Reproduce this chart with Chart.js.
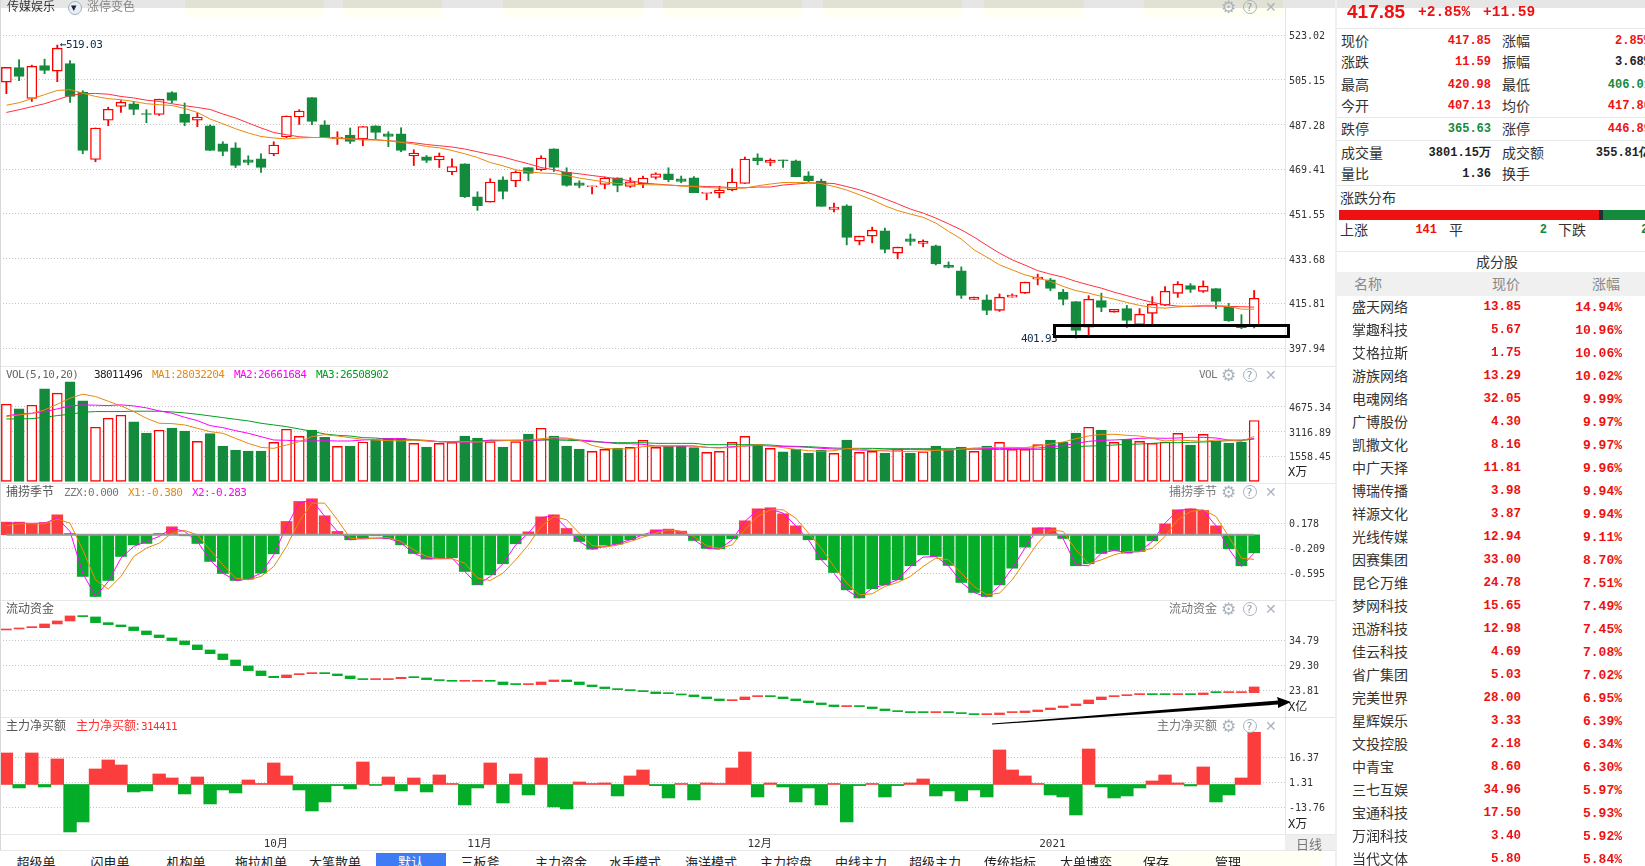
<!DOCTYPE html>
<html><head><meta charset="utf-8">
<script src="https://cdn.jsdelivr.net/npm/chart.js@4/dist/chart.umd.min.js"></script>
<style>
html,body{margin:0;padding:0;background:#fff;width:1645px;height:866px;overflow:hidden}
body{position:relative;font-family:"Noto Sans CJK SC",sans-serif}
canvas{position:absolute;left:0}
.t{position:absolute;white-space:nowrap;transform:translateY(-50%);line-height:1}
.b{position:absolute}
.m{font-family:"DejaVu Sans Mono",monospace;font-size:11px;letter-spacing:-.6px}
.v{font-family:"Liberation Mono",monospace;font-size:12px;font-weight:bold}
.c{font-family:"Noto Sans CJK SC",sans-serif;font-size:14px;color:#333;margin-top:-1.5px}
</style></head><body>
<script>
const opens=[504.2,510.0,497.7,510.8,508.6,511.6,500.2,473.3,489.0,494.5,495.6,491.6,491.3,500.0,491.5,489.0,486.8,479.6,478.0,473.2,473.6,475.5,482.3,490.3,498.0,487.2,481.6,483.1,481.5,486.8,483.6,483.6,474.7,474.4,473.1,468.3,471.6,458.4,456.3,465.2,464.7,470.1,469.2,477.6,468.3,464.0,462.4,463.3,466.0,462.5,463.6,466.1,467.6,465.6,466.0,459.8,459.9,461.1,463.7,474.0,472.1,473.1,472.8,466.8,464.7,453.4,454.8,440.7,442.7,444.8,435.9,441.6,439.8,438.8,431.1,428.8,417.4,417.2,413.0,418.3,419.9,425.5,425.2,420.3,416.5,406.3,416.9,412.3,413.7,407.3,411.8,415.1,419.8,422.9,420.6,421.7,414.5,406.9,407.13];
const closes=[510.1,506.5,510.6,508.9,517.8,498.5,476.9,485.9,493.4,496.2,493.3,491.3,497.4,496.9,488.1,490.3,476.9,476.5,470.9,472.1,470.1,479.1,490.7,492.7,488.5,482.1,482.3,480.5,486.5,484.1,482.5,476.9,475.9,472.9,474.7,470.5,458.5,454.9,464.3,460.6,468.3,467.7,473.9,470.1,462.9,462.9,462.7,465.9,462.9,464.4,465.9,467.6,465.2,464.5,460.1,459.9,461.1,464.3,473.5,472.8,473.1,472.8,466.4,464.8,454.6,454.3,442.2,442.7,445.1,437.4,438.3,440.6,440.7,431.6,430.2,419.0,418.3,413.0,418.3,419.1,424.3,426.3,421.8,417.4,405.0,417.5,414.2,413.4,409.0,411.5,415.5,420.7,423.5,421.4,422.7,416.6,408.9,406.1,417.85];
const highs=[510.1,513.2,511.0,513.4,519.03,512.8,500.8,485.9,494.2,496.8,496.5,493.2,497.4,500.4,495.9,491.9,487.1,480.4,480.0,474.8,475.6,480.4,490.7,493.2,498.0,488.8,484.4,485.9,486.5,486.8,484.4,486.0,477.2,474.9,475.9,473.6,471.6,460.4,465.6,466.4,468.8,470.1,474.8,477.6,470.0,464.8,462.7,466.3,466.0,466.0,466.7,468.0,470.0,466.7,466.5,459.9,462.6,469.6,474.3,475.6,473.6,473.1,473.1,468.4,465.5,455.9,455.2,442.7,446.3,445.9,438.3,443.5,441.2,439.1,432.4,430.4,418.3,419.2,419.6,419.6,424.3,427.5,425.8,421.4,416.5,418.9,419.9,413.4,415.0,413.7,418.5,422.5,424.5,423.7,424.8,421.7,415.8,411.3,420.98];
const lows=[499.6,504.8,496.5,507.6,504.4,496.1,475.6,472.4,486.8,492.1,491.2,488.0,490.9,495.9,486.8,486.4,476.9,474.8,470.1,471.2,468.1,474.8,482.0,487.3,487.2,482.0,479.3,479.7,478.8,481.6,478.4,476.4,470.9,472.1,470.1,467.2,458.1,452.96,456.3,457.6,462.4,464.8,468.8,468.5,462.6,462.0,459.6,461.6,460.4,462.1,462.0,465.5,464.4,464.0,460.1,457.2,458.0,460.8,463.7,471.2,470.8,470.1,466.4,464.4,454.6,452.4,439.2,439.2,440.0,436.0,433.6,439.0,438.4,431.2,430.0,417.8,417.4,411.3,412.6,418.3,419.8,423.2,420.9,415.2,401.93,403.3,412.5,412.3,406.2,407.3,407.3,414.9,418.2,420.2,420.2,413.7,408.6,405.7,406.0];
const priceMaFast=[495.0,496.0,497.6,499.2,500.9,501.2,499.8,498.5,497.6,497.2,496.5,495.6,495.2,494.9,493.7,492.1,489.5,487.6,485.6,483.9,482.5,481.9,481.5,481.9,482.1,482.1,481.7,481.5,481.1,481.1,480.8,480.1,479.5,478.5,478.0,476.9,475.6,474.1,472.1,470.8,469.2,468.4,467.9,467.7,466.9,465.9,465.1,464.3,463.7,463.5,463.2,463.2,463.1,462.7,462.5,462.1,461.9,461.9,461.9,462.8,463.5,464.1,464.1,464.1,463.7,462.5,461.1,459.2,457.2,454.8,452.9,451.5,450.2,447.9,444.6,441.5,437.2,434.3,431.2,429.2,427.2,425.9,424.6,422.6,420.9,419.9,418.6,417.5,416.2,415.0,414.2,413.9,414.4,414.7,415.0,415.0,414.6,413.5,413.5];
const priceMaSlow=[492.1,493.2,494.4,495.6,497.2,498.9,499.6,499.7,499.4,498.5,497.9,497.0,496.5,495.6,494.8,494.1,493.3,491.5,489.9,487.9,485.9,484.1,483.2,482.4,482.1,482.1,481.9,481.6,481.5,481.2,480.8,480.5,480.0,479.3,478.8,478.3,477.5,476.4,475.3,474.3,472.9,471.6,470.1,469.2,468.1,467.6,466.9,466.3,465.6,464.8,463.9,463.5,463.1,462.8,462.7,462.5,462.4,462.0,462.0,462.3,462.3,463.1,463.5,463.9,463.9,463.7,462.5,461.2,459.5,457.6,455.6,453.5,451.9,449.9,447.6,445.2,442.3,439.0,435.9,433.2,431.1,428.9,427.5,426.3,424.6,423.2,421.9,420.3,418.9,417.5,416.2,415.3,414.7,414.6,414.7,414.7,414.6,414.5,414.3];
const volumes=[4822,4529,4759,5784,5512,6223,5031,3378,3943,4131,3713,3023,3190,3336,3148,2500,2981,2207,1956,1893,1893,2437,3253,2813,3211,2751,2186,2207,2458,2583,2688,2688,2374,2144,2374,2437,2834,2709,2479,2144,2479,2960,3316,2834,2207,2019,1872,1998,2081,2123,2563,2123,2207,2207,2102,1810,1872,2437,2813,2291,2061,1851,2019,1768,1935,1747,2583,1810,1872,1768,1998,1768,1851,2207,1998,2144,1872,2207,2437,1998,1998,2291,2583,2458,3023,3378,3211,2437,2625,2500,2374,2458,3002,2270,2939,2521,2395,2458,3801.15];
const volMa1=[4048,4152,4236,4466,4822,5199,5449,5303,5010,4717,4362,3943,3630,3609,3525,3316,3107,3002,2688,2374,2123,2061,2270,2479,2793,2918,2834,2730,2625,2583,2542,2521,2583,2542,2479,2458,2479,2458,2500,2542,2563,2583,2667,2730,2709,2583,2249,2061,2019,2040,2165,2207,2207,2228,2207,2123,2081,2123,2207,2291,2228,2102,1998,1914,1872,1914,2061,2019,1935,1893,1872,1872,1893,1935,1956,2019,2081,2102,2123,2123,2102,2207,2332,2458,2667,2834,2939,2939,2876,2834,2688,2521,2583,2542,2500,2583,2583,2500,2803];
const volMa2=[4090,4215,4257,4362,4529,4717,4780,4759,4738,4780,4717,4592,4404,4257,4006,3797,3483,3358,3169,3002,2793,2583,2563,2521,2521,2542,2521,2521,2583,2625,2667,2667,2604,2563,2479,2458,2437,2458,2583,2563,2563,2563,2583,2646,2646,2583,2521,2437,2353,2353,2312,2207,2207,2207,2207,2123,2102,2165,2207,2249,2207,2165,2165,2123,2061,2019,1998,1956,1935,1956,1998,1998,1998,1998,1956,1998,2019,2061,2040,2061,2061,2081,2165,2228,2374,2500,2563,2583,2625,2688,2709,2688,2709,2751,2751,2709,2583,2583,2666];
const volMa3=[3901,3901,3922,4006,4111,4194,4320,4362,4362,4362,4383,4383,4383,4341,4278,4194,4090,3985,3880,3776,3630,3525,3420,3274,3127,2960,2876,2834,2730,2709,2625,2583,2583,2521,2479,2479,2521,2542,2542,2563,2563,2563,2583,2583,2563,2542,2479,2437,2416,2416,2416,2374,2374,2374,2374,2291,2291,2291,2291,2291,2270,2207,2186,2165,2123,2081,2061,2061,2061,2040,2040,2040,2040,2040,2040,2040,2019,1998,1998,1998,1998,1998,2019,2081,2165,2207,2228,2270,2312,2332,2374,2416,2416,2437,2458,2500,2542,2542,2651];
const zzx=[.196,.196,.180,.191,.309,.021,-.644,-.954,-.706,-.335,-.155,-.134,.021,.124,-.015,-.134,-.412,-.598,-.706,-.686,-.593,-.294,.206,.516,.557,.294,.052,-.077,-.046,-.010,-.062,-.155,-.289,-.376,-.361,-.356,-.567,-.773,-.619,-.448,-.139,.046,.278,.309,.098,-.103,-.222,-.160,-.144,-.077,-.010,.077,.088,.057,-.088,-.211,-.216,-.062,.217,.402,.418,.325,.139,-.077,-.387,-.583,-.851,-.974,-.835,-.773,-.696,-.479,-.309,-.335,-.474,-.737,-.892,-.954,-.773,-.516,-.191,.108,.108,-.057,-.479,-.448,-.289,-.242,-.284,-.258,-.093,.170,.387,.402,.376,.139,-.216,-.479,-.278];
const x1Line=[.139,.170,.170,.170,.242,.180,-.232,-.696,-.840,-.644,-.335,-.206,-.129,.026,.067,0,-.232,-.464,-.670,-.696,-.644,-.490,-.180,.206,.490,.490,.232,-.052,-.067,-.052,-.041,-.103,-.232,-.335,-.371,-.371,-.438,-.670,-.706,-.593,-.387,-.155,.129,.284,.232,.026,-.165,-.191,-.160,-.103,-.036,.026,.077,.052,-.026,-.170,-.211,-.155,.077,.284,.387,.387,.258,.026,-.206,-.490,-.747,-.928,-.912,-.799,-.737,-.644,-.490,-.361,-.387,-.593,-.799,-.928,-.902,-.696,-.412,-.129,.077,.052,-.232,-.448,-.387,-.309,-.258,-.263,-.206,-.026,.232,.361,.387,.284,-.026,-.361,-.380];
const x2Line=[.180,.180,.175,.180,.258,.052,-.593,-.954,-.722,-.361,-.180,-.103,-.026,.103,.052,-.103,-.387,-.593,-.706,-.686,-.593,-.309,.129,.490,.541,.284,.052,-.077,-.052,-.052,-.052,-.129,-.284,-.371,-.371,-.361,-.567,-.773,-.644,-.448,-.155,.026,.258,.304,.103,-.103,-.222,-.180,-.139,-.077,0,.062,.077,.052,-.077,-.211,-.222,-.077,.206,.387,.397,.335,.139,-.077,-.387,-.593,-.851,-.979,-.825,-.773,-.696,-.490,-.345,-.335,-.479,-.737,-.892,-.964,-.789,-.516,-.206,.103,.103,-.062,-.464,-.479,-.284,-.242,-.273,-.258,-.103,.180,.376,.397,.376,.139,-.216,-.490,-.283];
const capOpen=[37.06,37.28,37.57,37.57,38.38,39.04,40.14,39.92,38.67,38.16,37.72,36.84,35.96,35.31,34.65,33.77,32.67,31.79,30.47,29.16,28.06,26.89,26.59,27.25,27.47,27.62,27.40,26.96,26.23,26.16,26.16,26.37,26.67,26.52,26.08,25.86,25.79,25.79,25.86,25.64,25.20,25.06,25.06,25.72,26.08,25.64,24.98,24.54,24.11,23.89,23.67,23.45,23.23,23.01,22.79,22.35,21.91,21.54,21.76,22.42,22.57,22.35,21.91,21.47,21.03,20.59,20.23,20.37,20.15,19.71,19.27,19.05,19.05,18.91,19.05,18.83,18.62,18.47,18.47,18.91,18.91,19.13,19.57,20.01,20.45,20.88,21.76,22.42,22.64,22.86,23.01,23.01,22.86,23.01,22.86,23.45,23.30,23.30,23.30];
const capClose=[37.21,37.43,37.72,38.38,39.04,40.14,39.99,38.67,38.23,37.79,36.92,36.04,35.38,34.72,33.84,32.74,31.86,30.55,29.23,28.13,27.03,26.59,27.18,27.40,27.62,27.47,27.03,26.37,26.16,26.23,26.23,26.67,26.59,26.16,25.94,25.79,25.86,25.86,25.79,25.06,25.06,25.13,25.64,26.08,25.72,25.06,24.62,24.18,23.96,23.74,23.52,23.08,23.08,22.79,22.42,21.98,21.54,21.69,22.35,22.57,22.42,21.98,21.54,21.10,20.67,20.23,20.37,20.23,19.79,19.35,19.13,18.91,18.91,19.05,18.91,18.69,18.47,18.62,18.83,19.05,19.27,19.49,19.93,20.37,20.81,21.69,22.35,22.57,22.79,23.01,22.86,22.86,23.01,22.86,23.23,23.30,23.45,23.45,24.55];
const netBuy=[18.98,-2.10,18.98,-1.50,15.37,-28.61,-22.59,9.34,14.76,11.75,-4.51,-3.91,6.33,3.92,-5.72,4.52,-11.74,-3.31,-5.12,2.72,.31,12.96,5.13,-3.31,-15.96,-10.54,-.70,-2.71,13.56,-.30,4.52,-3.91,3.92,-4.51,5.73,.31,-12.34,-2.10,12.96,-11.14,6.33,-6.32,15.97,-13.55,-14.75,1.51,.31,.91,-6.92,5.13,8.74,-.70,-8.13,.31,-9.33,.91,.31,9.94,19.58,-7.53,.91,-1.50,-10.54,-2.10,-12.34,.31,-22.59,-.70,.31,-7.53,-.70,.91,3.32,-6.92,-3.91,-9.93,-3.31,-7.53,20.79,8.74,5.13,.31,-6.32,-7.53,-18.37,21.39,-1.50,-8.13,-6.92,-2.10,2.11,5.73,.91,-.90,10.55,-10.54,-6.32,3.92,31.44];
const monthTicks={21:'10月',37:'11月',59:'12月',82:'2021'};
const priceTicks=[523.02,505.15,487.28,469.41,451.55,433.68,415.81,397.94];
const volTicks=[4675.34,3116.89,1558.45];
const zzxTicks=[0.178,-0.209,-0.595];
const capTicks=[34.79,29.30,23.81];
const netTicks=[16.37,1.31,-13.76];
const tabNames=['超级单','闪电单','机构单','拖拉机单','大笔散单','默认','三板斧','主力资金','水手模式','海洋模式','主力控盘','中线主力','超级主力','传统指标','大单博弈','保存','管理'];
const stockNames=['盛天网络','掌趣科技','艾格拉斯','游族网络','电魂网络','广博股份','凯撒文化','中广天择','博瑞传播','祥源文化','光线传媒','因赛集团','昆仑万维','梦网科技','迅游科技','佳云科技','省广集团','完美世界','星辉娱乐','文投控股','中青宝','三七互娱','宝通科技','万润科技','当代文体'];
const stockPrices=['13.85','5.67','1.75','13.29','32.05','4.30','8.16','11.81','3.98','3.87','12.94','33.00','24.78','15.65','12.98','4.69','5.03','28.00','3.33','2.18','8.60','34.96','17.50','3.40','5.80'];
const stockPcts=['14.94%','10.96%','10.06%','10.02%','9.99%','9.97%','9.97%','9.96%','9.94%','9.94%','9.11%','8.70%','7.51%','7.49%','7.45%','7.08%','7.02%','6.95%','6.39%','6.34%','6.30%','5.97%','5.93%','5.92%','5.84%'];

const RED='#ff0000',GREEN='#148a3c',BRED='#fc3d3d',BGREEN='#04ad28',ORANGE='#e8890c',MAG='#ff00ff';
const N=101;
const labels=Array.from({length:N},(_,i)=>monthTicks[i]||'');
const isUp=i=>closes[i]>=opens[i];
Chart.defaults.animation=false;
Chart.defaults.devicePixelRatio=1;
function line(data,color,order,w){return {type:'line',data,borderColor:color,borderWidth:w||1,pointRadius:0,tension:0,order:order||0,fill:false,spanGaps:false};}
const zeroPlugin={id:'zero',afterDatasetsDraw(ch){
  if(!ch.options.plugins.zeroLine)return;
  const y=ch.scales.y.getPixelForValue(0),x=ch.scales.x,g=ch.ctx;
  g.save();g.strokeStyle='#999';g.lineWidth=2;g.beginPath();g.moveTo(x.getPixelForValue(0),y);g.lineTo(x.getPixelForValue(98),y);g.stroke();g.restore();
}};
function make(top,height,datasets,min,max,ticks,dec,showX,zero){
  const c=document.createElement('canvas');
  c.width=1335;c.height=height;c.style.top=top+'px';c.style.width='1335px';c.style.height=height+'px';
  document.body.appendChild(c);
  return new Chart(c,{type:'bar',data:{labels,datasets},plugins:[zeroPlugin],options:{
    responsive:false,maintainAspectRatio:false,
    layout:{padding:0},
    plugins:{legend:{display:false},tooltip:{enabled:false},title:{display:false},zeroLine:!!zero},
    scales:{
      x:{display:!!showX,grid:{display:false,drawTicks:false},border:{display:false},
         afterFit(s){s.paddingLeft=0;s.paddingRight=0;s.paddingTop=0;s.paddingBottom=0;if(showX)s.height=16;},
         ticks:{autoSkip:false,maxRotation:0,minRotation:0,padding:4,labelOffset:2,color:'#333',font:{family:'"DejaVu Sans Mono","Noto Sans CJK SC"',size:11}}},
      y:{position:'right',min,max,border:{display:false,dash:[1,2]},
         grid:{color:'#c4c4c4',lineWidth:1,drawTicks:false},
         afterBuildTicks(a){a.ticks=ticks.map(v=>({value:v}));},
         afterFit(s){s.width=49;s.paddingTop=0;s.paddingBottom=0;},
         ticks:{autoSkip:false,padding:3,labelOffset:1.5,color:'#333',font:{family:'"DejaVu Sans Mono",monospace',size:10},callback:v=>Number(v).toFixed(dec)}}
    }}});
}
const barBase={borderSkipped:false,grouped:false,minBarLength:1};
make(0,366,[
  line(priceMaFast,ORANGE,0),
  line(priceMaSlow,'#ff3040',0),
  Object.assign({data:opens.map((o,i)=>[o,closes[i]]),barThickness:10,order:1,borderWidth:1.4,
    backgroundColor:opens.map((_,i)=>isUp(i)?'#ffffff':GREEN),borderColor:opens.map((_,i)=>isUp(i)?RED:GREEN)},barBase),
  Object.assign({data:lows.map((l,i)=>[l,highs[i]]),barThickness:1.2,order:2,
    backgroundColor:opens.map((_,i)=>isUp(i)?RED:GREEN)},barBase)
],390.79,537.04,priceTicks,2);
make(366,117,[
  line(volMa1,ORANGE,0),line(volMa2,MAG,0),line(volMa3,'#00a020',0),
  Object.assign({data:volumes,barThickness:10,order:1,borderWidth:1.4,
    backgroundColor:opens.map((_,i)=>isUp(i)?'#ffffff':GREEN),borderColor:opens.map((_,i)=>isUp(i)?RED:GREEN)},barBase)
],-106,7212,volTicks,2);
make(483,117,[
  line(x1Line,ORANGE,0),line(x2Line,MAG,0),
  Object.assign({data:zzx,barThickness:11,order:1,backgroundColor:zzx.map(v=>v>=0?BRED:BGREEN)},barBase)
],-1.008,0.801,zzxTicks,3,false,true);
make(600,117,[
  Object.assign({data:capOpen.map((o,i)=>[o,capClose[i]]),barThickness:10,order:1,
    backgroundColor:capOpen.map((o,i)=>capClose[i]>=o?BRED:BGREEN)},barBase)
],17.95,43.64,capTicks,2);
make(717,133,[
  Object.assign({data:netBuy,barPercentage:1,categoryPercentage:1,order:1,backgroundColor:netBuy.map(v=>v>=0?BRED:BGREEN)},barBase)
],-29.84,40.65,netTicks,2,true);

function box(x,y,w,h,bg,z){const d=document.createElement('div');d.className='b';d.style.cssText=`left:${x}px;top:${y}px;width:${w}px;height:${h}px;background:${bg};z-index:${z||2}`;document.body.appendChild(d);return d;}
function txt(x,y,s,cls,css,right){const d=document.createElement('div');d.className='t '+(cls||'');d.textContent=s;d.style.cssText=(right?`right:${1645-x}px;`:`left:${x}px;`)+`top:${y}px;z-index:5;`+(css||'');document.body.appendChild(d);return d;}
box(0,0,1645,8,'#e6e6e6',1);
[[185,139],[343,99],[503,141],[663,139],[823,139],[984,100],[1144,139]].forEach(p=>{box(p[0],0,p[1],8,'#e2e2d4',2);box(p[0],8,p[1],10,'#fffff2',0);});
[366,483,600,717,834,850].forEach(y=>box(0,y,1335,1,'#e8e8e8',2));
box(0,0,1,850,'#d8d8d8',2);
box(1285,8,1,842,'#e4e4e4',2);
box(1335,0,2,866,'#efefef',2);
box(1285,835,50,15,'#efefef',2);
txt(1296,843,'日线','','font-size:13px;color:#777');
const cj='font-size:12px;color:#555;margin-top:-1px';
txt(7,7,'传媒娱乐','','font-size:12px;color:#333;margin-top:-1px');
const dd=box(68,1,12,12,'#e8eef5',6);dd.style.borderRadius='50%';dd.style.border='1px solid #9fb0c0';
txt(71,7,'▾','','font-size:11px;color:#223;z-index:7;font-family:"DejaVu Sans"');
txt(87,7,'涨停变色','','font-size:12px;color:#888;margin-top:-1px');
txt(6,374,'VOL(5,10,20)','m','color:#666');
txt(94,374,'38011496','m','color:#222');
txt(152,374,'MA1:28032204','m','color:'+ORANGE);
txt(234,374,'MA2:26661684','m','color:'+MAG);
txt(316,374,'MA3:26508902','m','color:#00a020');
txt(6,492,'捕捞季节','',cj);
txt(64,492,'ZZX:0.000','m','color:#777');
txt(128,492,'X1:-0.380','m','color:'+ORANGE);
txt(192,492,'X2:-0.283','m','color:'+MAG);
txt(6,609,'流动资金','',cj);
txt(6,726,'主力净买额','',cj);
txt(76,726,'主力净买额:','','font-size:12px;color:#fc3030;margin-top:-1px');
txt(141,726,'314411','m','color:#fc3030');
txt(1217,374,'VOL','m','color:#777',true);
txt(1217,492,'捕捞季节','',cj+';color:#777',true);
txt(1217,609,'流动资金','',cj+';color:#777',true);
txt(1217,726,'主力净买额','',cj+';color:#777',true);
[7,375,492,609,726].forEach(y=>{
  txt(1221,y,'⚙','','font-family:"DejaVu Sans";font-size:17px;color:#a9b3bf');
  const q=box(1243,y-7,12,12,'transparent',5);q.style.border='1px solid #a9b3bf';q.style.borderRadius='50%';
  txt(1246.5,y,'?','','font-family:"DejaVu Sans";font-size:11px;color:#8f9aa6');
  txt(1265,y,'✕','','font-family:"DejaVu Sans";font-size:14px;color:#a9b3bf');
});
const unit='font-family:"DejaVu Sans Mono","Noto Sans CJK SC";font-size:12px;color:#222';
txt(1288,472,'X万','',unit);
txt(1288,707,'X亿','',unit);
txt(1288,824,'X万','',unit);
txt(60,44,'←519.03','m','color:#0c2c4c');
txt(1021,338,'401.93','m','color:#0c2c4c');
const rect=box(1053,324,231,8,'transparent',6);rect.style.border='3px solid #000';
document.body.insertAdjacentHTML('beforeend','<svg style="position:absolute;left:0;top:0;z-index:6" width="1645" height="866"><polygon points="992,723.6 1278,700.5 1277,697 1291,702 1278,708 1278,704.5 992,724.6" fill="#000"/></svg>');
const tabX=[36,110,186,261,335,411,480,561,635,711,786,861,935,1010,1086,1156,1228];
box(1096,850,225,16,'#fffff4',1);
box(376,853,70,13,'#3f7bf5',2);
tabNames.forEach((s,i)=>{const d=txt(tabX[i],861,s,'','font-size:13px;color:'+(s==='默认'?'#fff':'#222'));d.style.transform='translate(-50%,-50%)';});
txt(1347,11,'417.85','','font-family:"Liberation Sans";font-weight:bold;font-size:19px;color:#ee1111');
txt(1418,12,'+2.85%','','font-family:"Liberation Mono";font-weight:bold;font-size:14.5px;color:#ee1111');
txt(1483,12,'+11.59','','font-family:"Liberation Mono";font-weight:bold;font-size:14.5px;color:#ee1111');
[28,117,140,185,251].forEach(y=>box(1337,y,308,1,'#e8e8e8',2));
const R='color:#ee1111',G='color:#148a3c',K='color:#222';
[[41,'现价','417.85',R,'涨幅','2.85%',R],[62,'涨跌','11.59',R,'振幅','3.68%',K],[85,'最高','420.98',R,'最低','406.01',G],[106,'今开','407.13',R,'均价','417.80',R],[129,'跌停','365.63',G,'涨停','446.89',R],[153,'成交量','3801.15万',K,'成交额','355.81亿',K],[174,'量比','1.36',K,'换手','',K]].forEach(r=>{
  txt(1341,r[0],r[1],'c');txt(1491,r[0],r[2],'v',r[3],true);txt(1502,r[0],r[4],'c');
  if(r[5])txt(1651,r[0],r[5],'v',r[6],true);
});
txt(1340,198,'涨跌分布','c');
box(1339,210,260,10,'#ee1111');box(1599,210,4,10,'#2b2b33');box(1603,210,42,10,GREEN);
txt(1340,230,'上涨','c');txt(1437,230,'141','v',R,true);
txt(1449,230,'平','c');txt(1547,230,'2','v',G,true);
txt(1558,230,'下跌','c');txt(1641,230,'2','v',G);
const h=txt(1497,262,'成分股','c');h.style.transform='translate(-50%,-50%)';
box(1337,272,308,24,'#f0f0f0',2);
txt(1354,284,'名称','c','color:#888');txt(1492,284,'现价','c','color:#888');txt(1592,284,'涨幅','c','color:#888');
stockNames.forEach((s,i)=>{
  const y=307+i*23.01;
  txt(1352,y,s,'c');
  txt(1521,y,stockPrices[i],'v',R+';font-size:12.5px',true);
  txt(1622,y,stockPcts[i],'v',R+';font-size:13px',true);
});
</script>
</body></html>
